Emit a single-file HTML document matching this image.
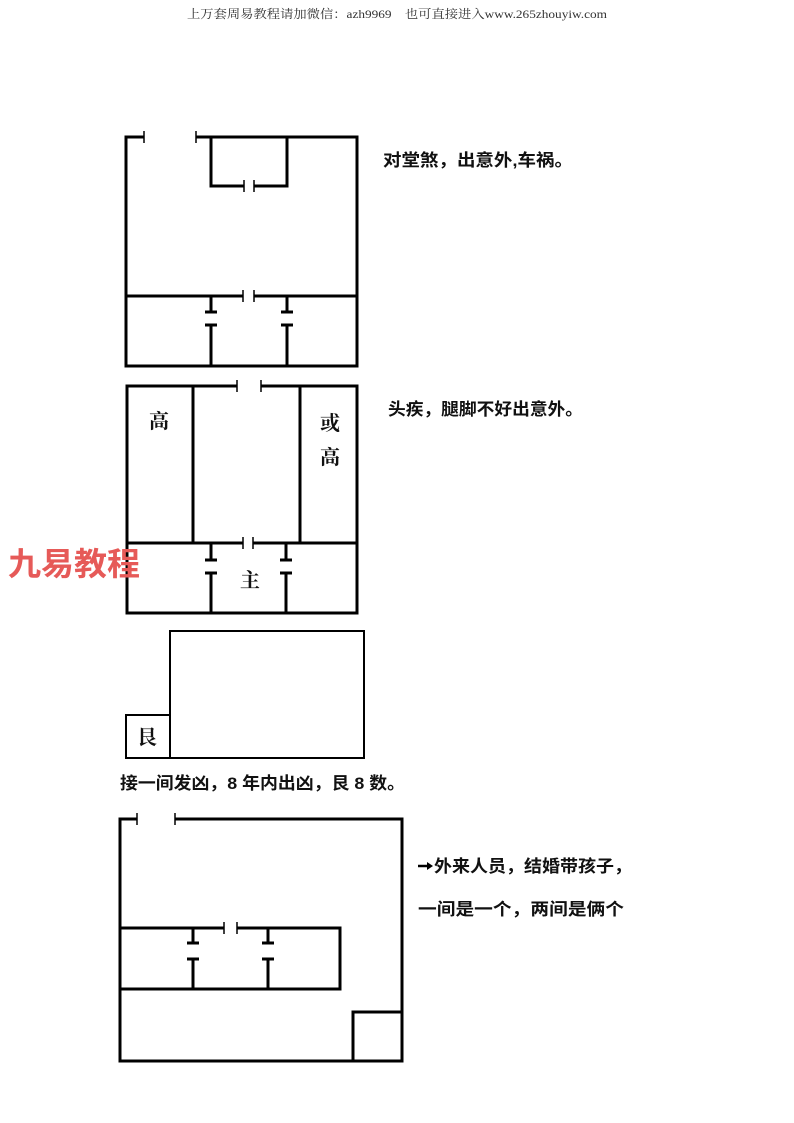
<!DOCTYPE html>
<html><head><meta charset="utf-8"><style>
html,body{margin:0;padding:0;background:#fff;}
svg{display:block}
.t{font-family:"Liberation Sans","Noto Sans CJK SC",sans-serif;font-weight:bold;font-size:17px;fill:#111}
.s{font-family:"Liberation Serif","Noto Serif CJK SC",serif;font-size:20px;fill:#111;font-weight:bold}
</style></head><body>
<svg width="794" height="1123" viewBox="0 0 794 1123" xmlns="http://www.w3.org/2000/svg">
<text x="187" y="18" textLength="420" lengthAdjust="spacingAndGlyphs" font-family="Liberation Serif,Noto Serif CJK SC,serif" font-size="12" fill="#333">上万套周易教程请加微信：azh9969　也可直接进入www.265zhouyiw.com</text>
<g stroke="#000" stroke-width="3" fill="none">
<!-- Diagram 1 -->
<path d="M144,137 H126 V366 H357 V137 H196"/>
<path d="M144,131 V143 M196,131 V143" stroke-width="1.5"/>
<path d="M211,137 V186 H244 M254,186 H287 V137"/>
<path d="M244,180 V192 M254,180 V192" stroke-width="1.5"/>
<path d="M126,296 H243 M254,296 H357"/>
<path d="M243,290 V302 M254,290 V302" stroke-width="1.5"/>
<path d="M211,296 V312 M205,312 H217 M211,325 V366 M205,325 H217"/>
<path d="M287,296 V312 M281,312 H293 M287,325 V366 M281,325 H293"/>
<!-- Diagram 2 -->
<path d="M237,386 H127 V613 H357 V386 H261"/>
<path d="M237,380 V392 M261,380 V392" stroke-width="1.5"/>
<path d="M193,386 V543 M300,386 V543"/>
<path d="M127,543 H243 M253,543 H357"/>
<path d="M243,537 V549 M253,537 V549" stroke-width="1.5"/>
<path d="M211,543 V560 M205,560 H217 M211,573 V613 M205,573 H217"/>
<path d="M286,543 V560 M280,560 H292 M286,573 V613 M280,573 H292"/>
<!-- Diagram 3 -->
<rect x="170" y="631" width="194" height="127" stroke-width="2"/>
<rect x="126" y="715" width="44" height="43" stroke-width="2"/>
<!-- Diagram 4 -->
<path d="M137,819 H120 V1061 H402 V819 H175"/>
<path d="M137,813 V825 M175,813 V825" stroke-width="1.5"/>
<path d="M120,928 H224 M237,928 H340 V989 H120"/>
<path d="M224,922 V934 M237,922 V934" stroke-width="1.5"/>
<path d="M193,928 V943 M187,943 H199 M193,959 V989 M187,959 H199"/>
<path d="M268,928 V943 M262,943 H274 M268,959 V989 M262,959 H274"/>
<path d="M353,1061 V1012 H402"/>
</g>
<text class="s" x="149" y="428">高</text>
<text class="s" x="320" y="430">或</text>
<text class="s" x="320" y="464">高</text>
<text class="s" x="240" y="587">主</text>
<text class="s" x="137" y="744">艮</text>
<text class="t" x="383" y="166" textLength="190" lengthAdjust="spacingAndGlyphs">对堂煞，出意外,车祸。</text>
<text class="t" x="388" y="415" textLength="195" lengthAdjust="spacingAndGlyphs">头疾，腿脚不好出意外。</text>
<text class="t" x="120" y="789" textLength="285" lengthAdjust="spacingAndGlyphs">接一间发凶，8 年内出凶，艮 8 数。</text>
<path d="M418,866 H430" stroke="#000" stroke-width="2.5"/>
<path d="M427,862 L433,866 L427,870 Z" fill="#000"/>
<text class="t" x="434" y="872" textLength="198" lengthAdjust="spacingAndGlyphs">外来人员，结婚带孩子，</text>
<text class="t" x="418" y="915" textLength="206" lengthAdjust="spacingAndGlyphs">一间是一个，两间是俩个</text>
<text x="8" y="575" textLength="132" lengthAdjust="spacingAndGlyphs" font-family="Liberation Sans,Noto Sans CJK SC,sans-serif" font-weight="bold" font-size="32" fill="#e65a58">九易教程</text>
</svg>
</body></html>
